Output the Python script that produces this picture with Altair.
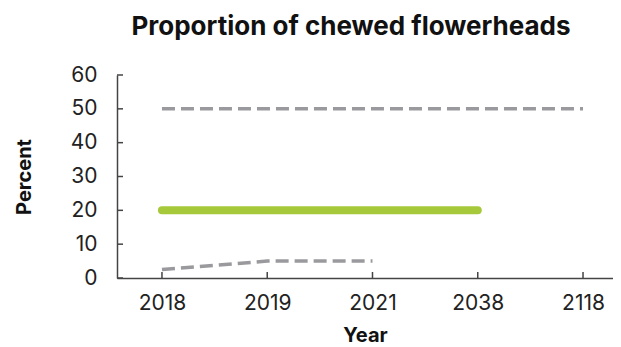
import altair as alt
import pandas as pd

years = ["2018", "2019", "2021", "2038", "2118"]

# upper dashed reference line
upper_years = ["2018", "2118"]
upper_vals = [50, 50]

# green target line
target_years = ["2018", "2038"]
target_vals = [20, 20]

# lower dashed observed line
obs_years = ["2018", "2019", "2021"]
obs_vals = [2.5, 5, 5]

y_ticks = [0, 10, 20, 30, 40, 50, 60]

FONT = "Inter"
W, H = 496, 203

xscale = alt.Scale(domain=years, type="point", padding=0.356, align=0.6)
yscale = alt.Scale(domain=[0, 60], nice=False)

df_upper = pd.DataFrame({"Year": upper_years, "Percent": upper_vals})
df_target = pd.DataFrame({"Year": target_years, "Percent": target_vals})
df_obs = pd.DataFrame({"Year": obs_years, "Percent": obs_vals})
df_yt = pd.DataFrame({"Percent": y_ticks})
df_xt = pd.DataFrame({"Year": years})

xaxis = alt.Axis(title="Year", labelAngle=0, ticks=False, domain=True,
                 labelPadding=14, titlePadding=12, labelOverlap=False)
yaxis = alt.Axis(title="Percent", values=y_ticks, ticks=False, domain=True,
                 labelPadding=20, titlePadding=36, grid=False,
                 labelOverlap=False, tickCount=7)

xenc = alt.X("Year:N", scale=xscale, sort=years, axis=xaxis)
yenc = alt.Y("Percent:Q", scale=yscale, axis=yaxis)

upper = alt.Chart(df_upper).mark_line(
    color="#9a9a9e", strokeWidth=3.5, strokeDash=[13, 6]
).encode(x=xenc, y=yenc)

target = alt.Chart(df_target).mark_line(
    color="#a6c93c", strokeWidth=8, strokeCap="round"
).encode(x=xenc, y=yenc)

obs = alt.Chart(df_obs).mark_line(
    color="#9a9a9e", strokeWidth=3.5, strokeDash=[13, 6]
).encode(x=xenc, y=yenc)

ytick_marks = alt.Chart(df_yt).mark_rule(color="#444", strokeWidth=1.5).encode(
    y=yenc, x=alt.value(0), x2=alt.value(6)
)
xtick_marks = alt.Chart(df_xt).mark_rule(color="#444", strokeWidth=1.5).encode(
    x=xenc, y=alt.value(H), y2=alt.value(H - 6)
)

chart = alt.layer(upper, obs, target, ytick_marks, xtick_marks).properties(
    width=W, height=H,
    title=alt.TitleParams("Proportion of chewed flowerheads", fontSize=26,
                          font=FONT, fontWeight="bold", color="#111",
                          anchor="middle", dx=-14, offset=24),
    autosize=alt.AutoSizeParams(type="none"),
    padding={"left": 109, "top": 67, "right": 0, "bottom": 70},
).configure_view(stroke=None).configure_axis(
    labelFont=FONT, labelFontSize=21, labelColor="#222", labelOverlap=False,
    titleFont=FONT, titleFontSize=20, titleFontWeight="bold", titleColor="#111",
    domainColor="#444", domainWidth=1.5,
)

chart.save("out.html", embed_options={"renderer": "svg", "actions": False})
